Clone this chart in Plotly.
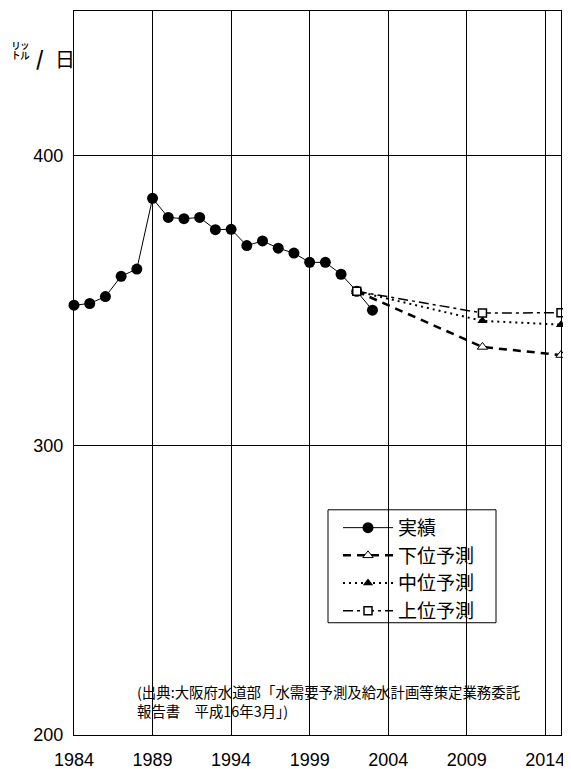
import plotly.graph_objects as go

# ---- data ----
years_actual = list(range(1984, 2004))
actual = [348.4, 349.0, 351.4, 358.4, 360.9, 385.3, 378.7, 378.3, 378.7, 374.5,
          374.6, 369.0, 370.6, 368.1, 366.4, 363.2, 363.2, 359.1, 353.2, 346.7]

years_proj = [2002, 2010, 2015]
lower = [353.2, 334.0, 331.2]
middle = [353.2, 343.0, 341.7]
upper = [353.2, 345.7, 345.8]

x_ticks = [1984, 1989, 1994, 1999, 2004, 2009, 2014]
y_ticks = [200, 300, 400]

names = ["実績", "下位予測", "中位予測", "上位予測"]
source_text = "(出典:大阪府水道部「水需要予測及給水計画等策定業務委託<br>報告書　平成16年3月」)"
unit_small = "㍑"
unit_slash = "<b>/</b>"
unit_day = "日"

# ---- layout geometry (screen pixels; page body has an 8px margin) ----
OFF = 8
W, H = 571 - OFF, 769 - OFF
L, R, T, B = 74, 561, 11, 735.3  # plot area in screen pixels

def px(xp):
    return (xp - L) / (R - L)

def py(yp):
    return (B - yp) / (B - T)

LAT = "Liberation Sans, Arial, sans-serif"
JP = "Noto Sans CJK JP, sans-serif"

fig = go.Figure()
# projections drawn first so the actual circle covers their 2002 markers
fig.add_trace(go.Scatter(
    x=years_proj, y=lower, name=names[1], mode="lines+markers", legendrank=2,
    line=dict(color="black", width=2.5, dash="8px,6px"),
    marker=dict(symbol="triangle-up", size=9, color="white", opacity=1,
                line=dict(color="black", width=1)),
    cliponaxis=False))
fig.add_trace(go.Scatter(
    x=years_proj, y=middle, name=names[2], mode="lines+markers", legendrank=3,
    line=dict(color="black", width=2, dash="2px,4px"),
    marker=dict(symbol="triangle-up", size=9, color="black", opacity=1),
    cliponaxis=False))
fig.add_trace(go.Scatter(
    x=years_actual, y=actual, name=names[0], mode="lines+markers", legendrank=1,
    line=dict(color="black", width=1),
    marker=dict(symbol="circle", size=11, color="black", opacity=1),
    cliponaxis=False))
fig.add_trace(go.Scatter(
    x=years_proj, y=upper, name=names[3], mode="lines+markers", legendrank=4,
    line=dict(color="black", width=1.5, dash="10px,4px,3px,4px"),
    marker=dict(symbol="square", size=8, color="white", opacity=1,
                line=dict(color="black", width=1.5)),
    cliponaxis=False))

fig.update_layout(
    width=W, height=H,
    margin=dict(l=L - OFF, r=W - (R - OFF), t=T - OFF, b=H - (B - OFF), autoexpand=False),
    plot_bgcolor="white", paper_bgcolor="white",
    font=dict(family=LAT, size=18, color="black"),
    showlegend=True,
    legend=dict(
        x=px(338), y=py(509), xanchor="left", yanchor="top",
        bgcolor="rgba(0,0,0,0)", borderwidth=0,
        font=dict(family=JP, size=19, color="black"),
        tracegroupgap=0, itemwidth=50,
    ),
)

# legend frame
fig.add_shape(type="rect", xref="paper", yref="paper",
              x0=px(328), x1=px(496), y0=py(623), y1=py(510),
              fillcolor="white", line=dict(color="black", width=1),
              layer="between")

fig.update_xaxes(
    range=[1984, 2015], tickvals=x_ticks, ticktext=[str(v) for v in x_ticks],
    showgrid=True, gridcolor="black", gridwidth=1,
    showline=True, linecolor="black", linewidth=1, mirror=True,
    ticks="", zeroline=False, ticklabelstandoff=8, automargin=False,
    tickfont=dict(family=LAT, size=18, color="black"),
)
fig.update_yaxes(
    range=[200, 450], tickvals=y_ticks, ticktext=[str(v) for v in y_ticks],
    showgrid=True, gridcolor="black", gridwidth=1,
    showline=True, linecolor="black", linewidth=1, mirror=True,
    ticks="", zeroline=False, ticklabelstandoff=6, automargin=False,
    tickfont=dict(family=LAT, size=18, color="black"),
)

fig.add_annotation(
    text=source_text, xref="paper", yref="paper",
    x=px(135), y=py(679), xanchor="left", yanchor="top", align="left",
    showarrow=False, font=dict(family=JP, size=14.4, color="black"))

fig.add_annotation(
    text=unit_small, xref="paper", yref="paper",
    x=px(20), y=py(50), xanchor="center", yanchor="middle",
    showarrow=False, font=dict(family=JP, size=19, color="black"))
fig.add_annotation(
    text=unit_slash, xref="paper", yref="paper",
    x=px(40), y=py(58), xanchor="center", yanchor="middle",
    showarrow=False, font=dict(family=JP, size=20, color="black"))
fig.add_annotation(
    text=unit_day, xref="paper", yref="paper",
    x=px(64.5), y=py(59), xanchor="center", yanchor="middle",
    showarrow=False, font=dict(family=JP, size=20, color="black"))

fig.write_html("out.html")
